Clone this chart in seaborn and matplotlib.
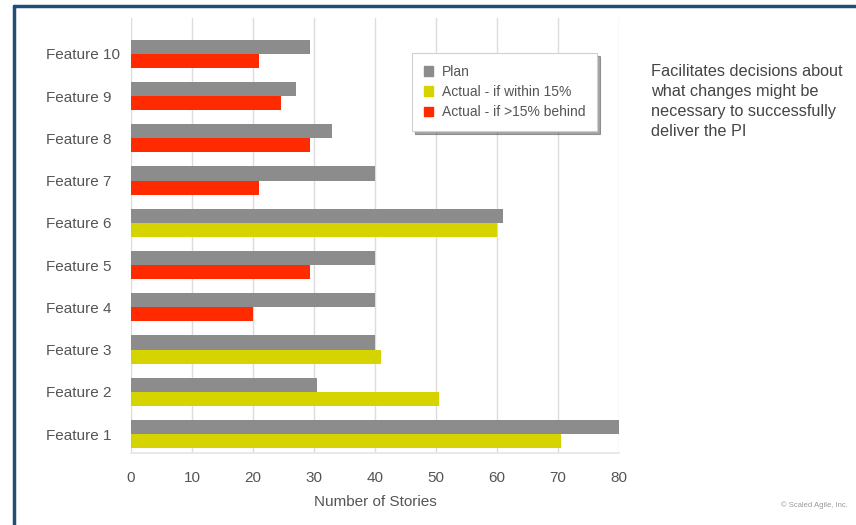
import pandas as pd
import matplotlib.pyplot as plt
import seaborn as sns
from matplotlib.patches import Patch
from matplotlib.lines import Line2D

# -------------------- DATA --------------------
features = ["Feature 10", "Feature 9", "Feature 8", "Feature 7", "Feature 6",
            "Feature 5", "Feature 4", "Feature 3", "Feature 2", "Feature 1"]
plan = [29.3, 27, 33, 40, 61, 40, 40, 40, 30.5, 80]
actual = [21, 24.6, 29.3, 21, 60, 29.3, 20, 41, 50.5, 70.5]
status = ["behind", "behind", "behind", "behind", "within",
          "behind", "behind", "within", "within", "within"]

GRAY = "#8c8c8c"
YELLOW = "#d5d300"
RED = "#ff2a00"
TEXT = "#555555"

df = pd.DataFrame({
    "feature": features * 2,
    "series": ["Plan"] * len(features) + ["Actual"] * len(features),
    "stories": plan + actual,
})

sns.set_theme(style="white")
plt.rcParams["font.family"] = ["Liberation Sans", "DejaVu Sans"]

fig = plt.figure(figsize=(8.56, 5.25), dpi=100)
ax = fig.add_axes([0.153, 0.137, 0.570, 0.829])

sns.barplot(data=df, y="feature", x="stories", hue="series",
            hue_order=["Plan", "Actual"], order=features,
            palette=[GRAY, YELLOW], width=0.67, orient="h",
            saturation=1, legend=False, ax=ax)

# colour the actual bars by status
for bar, st in zip(ax.containers[1], status):
    bar.set_facecolor(YELLOW if st == "within" else RED)
for cont in ax.containers:
    for bar in cont:
        bar.set_edgecolor("none")

ax.set_xlim(0, 80)
ax.set_ylim(9.45, -0.85)
ax.set_xticks(range(0, 81, 10))
ax.grid(axis="x", color="#dcdcdc", linewidth=1)
ax.set_axisbelow(True)
for s in ["top", "right", "left"]:
    ax.spines[s].set_visible(False)
ax.spines["bottom"].set_color("#e6e6e6")

ax.set_ylabel("")
ax.set_xlabel("Number of Stories", fontsize=11, color=TEXT, labelpad=7)
ax.tick_params(axis="x", length=0, pad=13, labelsize=11, labelcolor=TEXT)
ax.tick_params(axis="y", length=0, pad=61, labelsize=11, labelcolor=TEXT)
for lab in ax.get_yticklabels():
    lab.set_horizontalalignment("left")

handles = [Patch(color=GRAY, label="Plan"),
           Patch(color=YELLOW, label="Actual - if within 15%"),
           Patch(color=RED, label="Actual - if >15% behind")]
leg = fig.legend(handles=handles, loc="upper left",
                 bbox_to_anchor=(0.481, 0.899), borderaxespad=0,
                 fontsize=10, handlelength=0.7, handleheight=0.7,
                 handletextpad=0.6, labelspacing=0.45, borderpad=0.85,
                 frameon=True, fancybox=False, shadow=True, labelcolor=TEXT)
leg.get_frame().set_edgecolor("#d0d0d0")
leg.get_frame().set_linewidth(0.8)

fig.text(0.760, 0.878,
         "Facilitates decisions about\nwhat changes might be\nnecessary to successfully\ndeliver the PI",
         fontsize=11.7, color="#444444", va="top", ha="left", linespacing=1.42)

fig.text(0.991, 0.038, "\u00a9 Scaled Agile, Inc.", fontsize=5.5,
         color="#999999", ha="right", va="center")

# frame lines of the slide
fig.add_artist(Line2D([0.016, 1.0], [0.988, 0.988], color="#1f4e79", linewidth=2.5))
fig.add_artist(Line2D([0.016, 0.016], [0.0, 0.988], color="#1f4e79", linewidth=2.5))

fig.savefig("out.png", dpi=100, facecolor="white")
